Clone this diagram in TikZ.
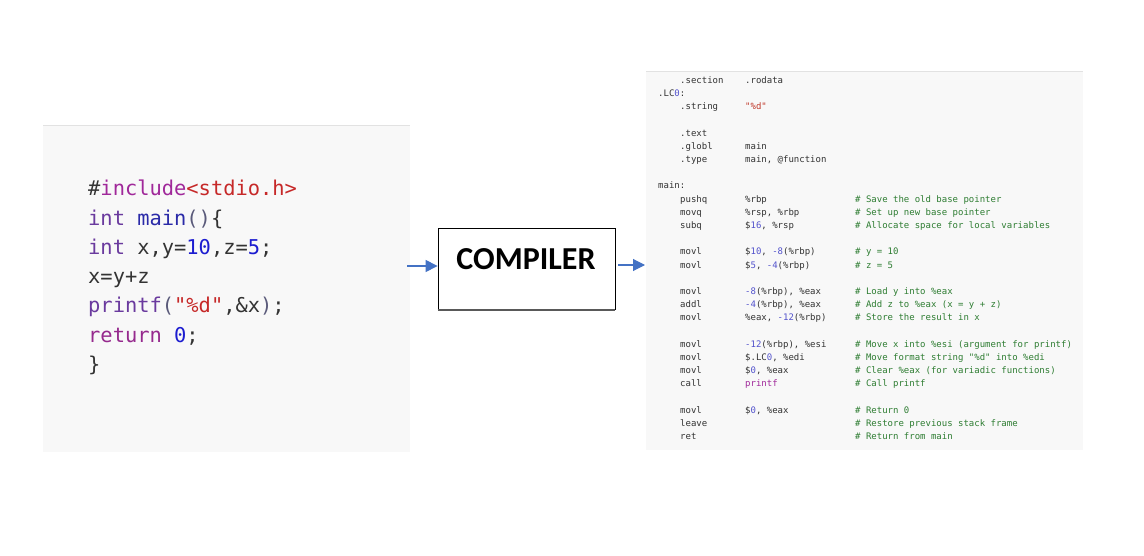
\documentclass[tikz,border=0pt]{standalone}
\usepackage{fontspec}
\setmonofont{DejaVu Sans Mono}
\newfontfamily\compfont{Carlito}
\usetikzlibrary{arrows.meta}
\definecolor{cdark}{HTML}{333333}
\definecolor{cinc}{HTML}{A0289A}
\definecolor{cstr}{HTML}{C62828}
\definecolor{ckw}{HTML}{6A3A9E}
\definecolor{cfn}{HTML}{2A2AA8}
\definecolor{cnum}{HTML}{1C1CD0}
\definecolor{cret}{HTML}{962A8E}
\definecolor{cpun}{HTML}{5A5A7A}
\definecolor{asmtxt}{HTML}{333333}
\definecolor{asmnum}{HTML}{5252CC}
\definecolor{asmstr}{HTML}{C0392B}
\definecolor{asmfn}{HTML}{A0289A}
\definecolor{asmcmt}{HTML}{2E7D32}
\definecolor{panel}{HTML}{F8F8F8}
\definecolor{panelline}{HTML}{E2E2E2}
\definecolor{arrblue}{HTML}{4472C4}
\newcommand\nm[1]{\textcolor{asmnum}{#1}}
\tikzset{
  code/.style={anchor=base west, inner sep=0pt, text=cdark,
    font=\ttfamily\fontsize{20.4}{20.4}\selectfont},
  asm/.style={anchor=base west, inner sep=0pt, text=asmtxt,
    font=\ttfamily\fontsize{9}{9}\selectfont},
  cmt/.style={asm, text=asmcmt},
  arr/.style={draw=arrblue, line width=1.1pt, -{Triangle[length=12pt,width=12pt]}},
  compbox/.style={draw=black, line width=0.8pt, fill=white, minimum width=177pt,
    minimum height=81pt, inner sep=0pt},
}
\begin{document}
\begin{tikzpicture}[x=1pt,y=-1pt]
\useasboundingbox (0,0) rectangle (1144,556);
% panels
\fill[panel] (43,126) rectangle (410,452);
\draw[panelline, line width=1pt] (43,126) -- (410,126);
\fill[panel] (646,71) rectangle (1083,450);
\draw[panelline, line width=0.8pt] (646,71) -- (1083,71);
% source code
\node[code] (c1) at (88,196) {\#\textcolor{cinc}{include}\textcolor{cstr}{<stdio.h>}};
\node[code] (c2) at (88,225.2) {\textcolor{ckw}{int} \textcolor{cfn}{main}\textcolor{cpun}{()}\{};
\node[code] (c3) at (88,254.4) {\textcolor{ckw}{int} x,y=\textcolor{cnum}{10},z=\textcolor{cnum}{5};};
\node[code] (c4) at (88,283.6) {x=y+z};
\node[code] (c5) at (88,312.8) {\textcolor{ckw}{printf}\textcolor{cpun}{(}\textcolor{cstr}{"\%d"},\&x\textcolor{cpun}{)};};
\node[code] (c6) at (88,342) {\textcolor{cret}{return} \textcolor{cnum}{0};};
\node[code] (c7) at (88,371.2) {\}};
% compiler
\node[compbox] (comp) at (526.5,268.5) {};
\draw[line width=1.6pt, black!65] ([yshift=-0.6pt]comp.south west) -- ([yshift=-0.6pt]comp.south east);
\node[inner sep=0pt, font=\compfont\bfseries\fontsize{32}{32}\selectfont] (complabel) at (526,259.5) {COMPILER};
% arrows
\coordinate (lin) at (407,266);
\draw[arr] (lin) -- (lin -| comp.west);
\coordinate (rin) at (645,265);
\draw[arr] ([xshift=3pt]comp.east |- rin) -- (rin);
% assembly
\node[asm] (a0i) at (680,83.3) {.section};
\node[asm] (a0o) at (745,83.3) {.rodata};
\node[asm] (a1) at (658,96.5) {.LC\nm{0}:};
\node[asm] (a2i) at (680,109.7) {.string};
\node[asm] (a2o) at (745,109.7) {\textcolor{asmstr}{"\%d"}};
\node[asm] (a4i) at (680,136.1) {.text};
\node[asm] (a5i) at (680,149.3) {.globl};
\node[asm] (a5o) at (745,149.3) {main};
\node[asm] (a6i) at (680,162.5) {.type};
\node[asm] (a6o) at (745,162.5) {main, @function};
\node[asm] (a8) at (658,188.9) {main:};
\node[asm] (a9i) at (680,202.1) {pushq};
\node[asm] (a9o) at (745,202.1) {\%rbp};
\node[cmt] (a9c) at (855,202.1) {\# Save the old base pointer};
\node[asm] (a10i) at (680,215.3) {movq};
\node[asm] (a10o) at (745,215.3) {\%rsp, \%rbp};
\node[cmt] (a10c) at (855,215.3) {\# Set up new base pointer};
\node[asm] (a11i) at (680,228.5) {subq};
\node[asm] (a11o) at (745,228.5) {\$\nm{16}, \%rsp};
\node[cmt] (a11c) at (855,228.5) {\# Allocate space for local variables};
\node[asm] (a13i) at (680,254.9) {movl};
\node[asm] (a13o) at (745,254.9) {\$\nm{10}, \nm{-8}(\%rbp)};
\node[cmt] (a13c) at (855,254.9) {\# y = 10};
\node[asm] (a14i) at (680,268.1) {movl};
\node[asm] (a14o) at (745,268.1) {\$\nm{5}, \nm{-4}(\%rbp)};
\node[cmt] (a14c) at (855,268.1) {\# z = 5};
\node[asm] (a16i) at (680,294.5) {movl};
\node[asm] (a16o) at (745,294.5) {\nm{-8}(\%rbp), \%eax};
\node[cmt] (a16c) at (855,294.5) {\# Load y into \%eax};
\node[asm] (a17i) at (680,307.7) {addl};
\node[asm] (a17o) at (745,307.7) {\nm{-4}(\%rbp), \%eax};
\node[cmt] (a17c) at (855,307.7) {\# Add z to \%eax (x = y + z)};
\node[asm] (a18i) at (680,320.9) {movl};
\node[asm] (a18o) at (745,320.9) {\%eax, \nm{-12}(\%rbp)};
\node[cmt] (a18c) at (855,320.9) {\# Store the result in x};
\node[asm] (a20i) at (680,347.3) {movl};
\node[asm] (a20o) at (745,347.3) {\nm{-12}(\%rbp), \%esi};
\node[cmt] (a20c) at (855,347.3) {\# Move x into \%esi (argument for printf)};
\node[asm] (a21i) at (680,360.5) {movl};
\node[asm] (a21o) at (745,360.5) {\$.LC\nm{0}, \%edi};
\node[cmt] (a21c) at (855,360.5) {\# Move format string "\%d" into \%edi};
\node[asm] (a22i) at (680,373.7) {movl};
\node[asm] (a22o) at (745,373.7) {\$\nm{0}, \%eax};
\node[cmt] (a22c) at (855,373.7) {\# Clear \%eax (for variadic functions)};
\node[asm] (a23i) at (680,386.9) {call};
\node[asm] (a23o) at (745,386.9) {\textcolor{asmfn}{printf}};
\node[cmt] (a23c) at (855,386.9) {\# Call printf};
\node[asm] (a25i) at (680,413.3) {movl};
\node[asm] (a25o) at (745,413.3) {\$\nm{0}, \%eax};
\node[cmt] (a25c) at (855,413.3) {\# Return 0};
\node[asm] (a26i) at (680,426.5) {leave};
\node[cmt] (a26c) at (855,426.5) {\# Restore previous stack frame};
\node[asm] (a27i) at (680,439.7) {ret};
\node[cmt] (a27c) at (855,439.7) {\# Return from main};
\end{tikzpicture}
\end{document}
